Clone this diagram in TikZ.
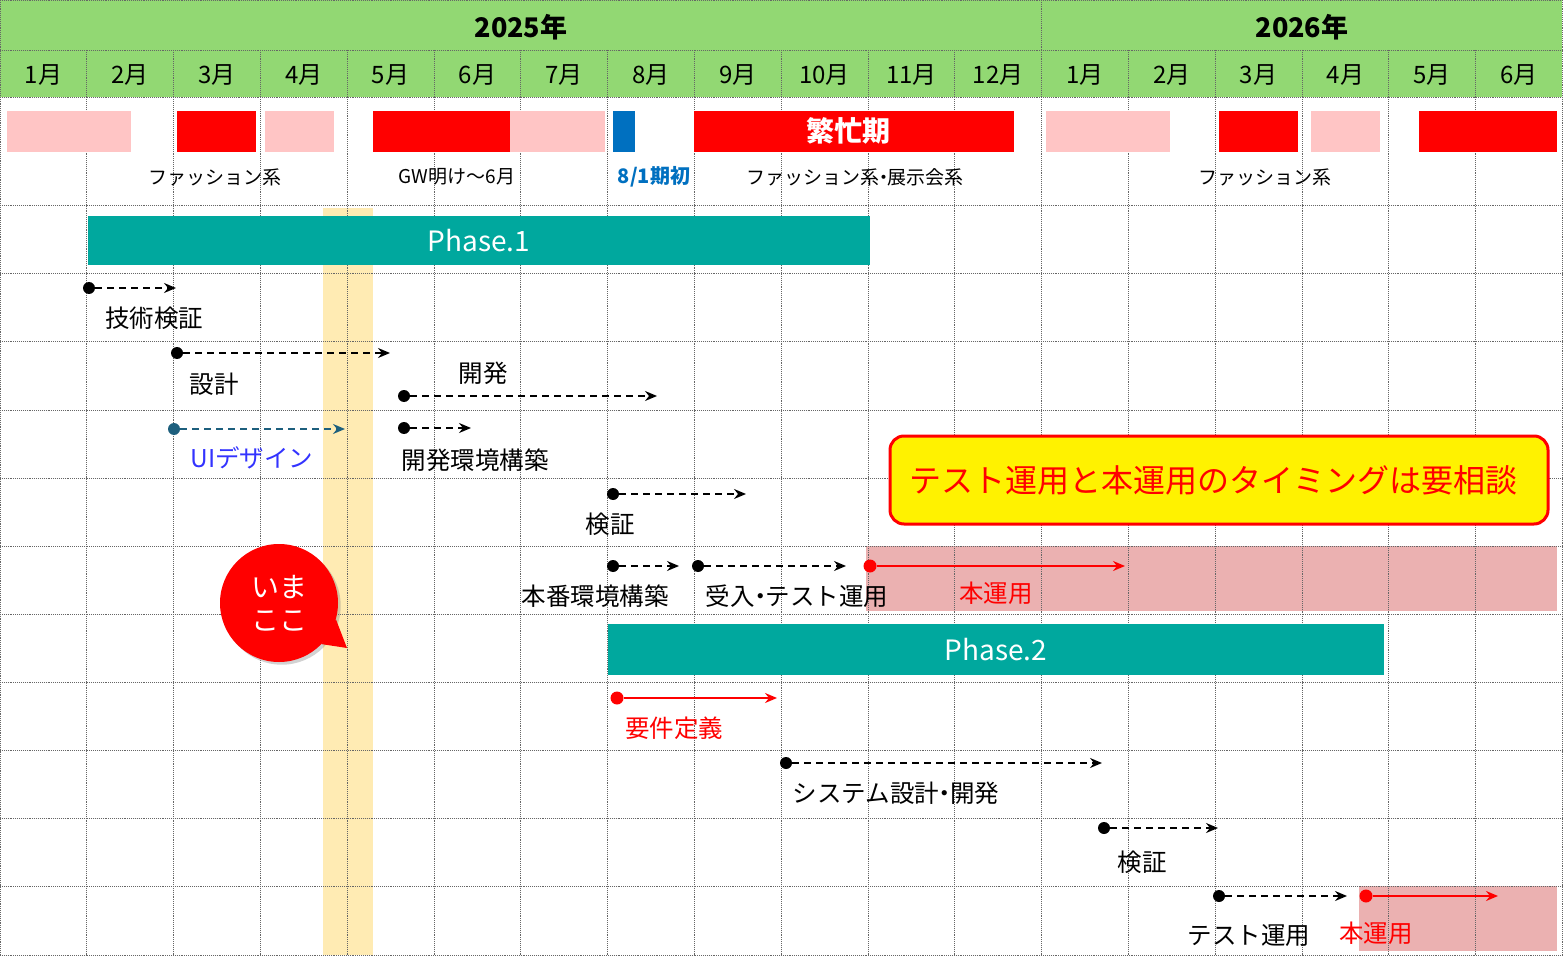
\documentclass[tikz,border=0pt]{standalone}
\usepackage{fontspec}
\setmainfont{Noto Sans CJK JP}
\usetikzlibrary{arrows.meta,shadows}
\definecolor{hdrGreen}{HTML}{92D873}
\definecolor{phaseTeal}{HTML}{00A89E}
\definecolor{busyRed}{HTML}{FF0000}
\definecolor{busyPink}{HTML}{FFC5C5}
\definecolor{kiBlue}{HTML}{0070C0}
\definecolor{opPink}{HTML}{EBB1B1}
\definecolor{nowBand}{HTML}{FFEBB3}
\definecolor{uiDot}{HTML}{1D5F7D}
\definecolor{uiText}{HTML}{3333FF}
\tikzstyle{grid}=[black!60, line width=0.9pt, densely dotted]
\tikzstyle{year}=[font=\fontsize{27}{27}\selectfont\bfseries]
\tikzstyle{month}=[font=\fontsize{24}{24}\selectfont]
\tikzstyle{note}=[font=\fontsize{19}{19}\selectfont]
\tikzstyle{phase}=[fill=phaseTeal, text=white, inner sep=0pt, font=\fontsize{28}{28}\selectfont]
\tikzstyle{dot}=[circle, fill=black, inner sep=0pt, minimum size=12pt]
\tikzstyle{rdot}=[circle, fill=red, inner sep=0pt, minimum size=13pt]
\tikzstyle{task}=[black, line width=1.8pt, dash pattern=on 7pt off 5pt, -{Stealth[length=12pt,width=10pt,inset=4pt]}]
\tikzstyle{optask}=[red, line width=1.8pt, -{Stealth[length=12pt,width=10pt,inset=4pt]}]
\tikzstyle{lbl}=[font=\fontsize{24.5}{24.5}\selectfont]
\newcommand\dotsep{\kern-0.28em・\kern-0.28em}

\begin{document}
\begin{tikzpicture}[x=1pt, y=-1pt]
			\useasboundingbox (0,0) rectangle (1563,965);
			\fill[white] (0,0) rectangle (1563,965);

			% Header
			\fill[hdrGreen] (0,0) rectangle (1562.4,97);
			\node[year] (y25) at (521,27) {2025年};
			\node[year] (y26) at (1302,27) {2026年};
			\foreach \i in {0,...,17}{
				\pgfmathtruncatemacro\m{mod(\i,12)+1}
				\node[month] (m\i) at ({86.8*(\i+0.5)},75) {\m 月};
			}

			% Now band and operation areas
			\fill[nowBand] (323,208) rectangle (373,955);
			\fill[opPink] (866,546) rectangle (1557,611);
			\fill[opPink] (1359,886) rectangle (1557,951);

			% Grid
			\foreach \y in {0,50,97,205,273,341,410,478,546,614,682,750,818,886,955}{
				\draw[grid] (0,\y) -- (1562.4,\y);
			}
			\foreach \i in {1,...,17}{ \draw[grid] ({86.8*\i},50) -- ({86.8*\i},955); }
			\draw[grid] (1041.6,0) -- (1041.6,50);
			\draw[grid] (0,0) -- (0,955);
			\draw[grid] (1562.4,0) -- (1562.4,955);

			% Busy seasons
			\fill[busyPink] (7,111) rectangle (131,152);
			\fill[busyRed]  (177,111) rectangle (256,152);
			\fill[busyPink] (265,111) rectangle (334,152);
			\fill[busyRed]  (373,111) rectangle (510,152);
			\fill[busyPink] (510,111) rectangle (605,152);
			\fill[kiBlue]   (613,111) rectangle (635,152);
			\fill[busyRed]  (694,111) rectangle (1014,152);
			\fill[busyPink] (1046,111) rectangle (1170,152);
			\fill[busyRed]  (1219,111) rectangle (1298,152);
			\fill[busyPink] (1311,111) rectangle (1380,152);
			\fill[busyRed]  (1419,111) rectangle (1557,152);

			% Busy labels
			\node[font=\fontsize{28}{28}\selectfont\bfseries, text=white] (busy) at (848,131) {繁忙期};
			\node[note] (n1) at (215,177) {ファッション系};
			\node[note] (n2) at (457,177) {GW明け～6月};
			\node[note, text=kiBlue, font=\fontsize{20}{20}\selectfont\bfseries] (n3) at (654,177) {8/1期初};
			\node[note] (n4) at (855,177) {ファッション系\dotsep 展示会系};
			\node[note] (n5) at (1265,177) {ファッション系};

			% Phases
			\node[phase, minimum width=782pt, minimum height=49pt] (p1) at (479,240.5) {Phase.1};
			\node[phase, minimum width=776pt, minimum height=51pt] (p2) at (996,649.5) {Phase.2};

			% Phase.1 tasks
			\node[dot] (t1) at (89,288) {};
			\coordinate (t1e) at (176,288);
			\draw[task] (t1) -- (t1e);
			\node[lbl] (t1l) at (154,318) {技術検証};

			\node[dot] (t2) at (177,353) {};
			\coordinate (t2e) at (390,353);
			\draw[task] (t2) -- (t2e);
			\node[lbl] (t2l) at (214,384) {設計};

			\node[dot] (t3) at (404,396) {};
			\coordinate (t3e) at (657,396);
			\draw[task] (t3) -- (t3e);
			\node[lbl] (t3l) at (483,373) {開発};

			\node[dot, fill=uiDot] (t4) at (174,429) {};
			\coordinate (t4e) at (345,429);
			\draw[task, uiDot] (t4) -- (t4e);
			\node[lbl, text=uiText] (t4l) at (252,458) {UIデザイン};

			\node[dot] (t5) at (404,428) {};
			\coordinate (t5e) at (471,428);
			\draw[task] (t5) -- (t5e);
			\node[lbl] (t5l) at (475,460) {開発環境構築};

			\node[dot] (t6) at (613,494) {};
			\coordinate (t6e) at (746,494);
			\draw[task] (t6) -- (t6e);
			\node[lbl] (t6l) at (610,524) {検証};

			\node[dot] (t7) at (613,566) {};
			\coordinate (t7e) at (679,566);
			\draw[task] (t7) -- (t7e);
			\node[lbl] (t7l) at (595,596) {本番環境構築};

			\node[dot] (t8) at (698,566) {};
			\coordinate (t8e) at (846,566);
			\draw[task] (t8) -- (t8e);
			\node[lbl] (t8l) at (797,596) {受入\dotsep テスト運用};

			\node[rdot] (t9) at (870,566) {};
			\coordinate (t9e) at (1125,566);
			\draw[optask] (t9) -- (t9e);
			\node[lbl, text=red] (t9l) at (996,593) {本運用};

			% Phase.2 tasks
			\node[rdot] (s1) at (617,698) {};
			\coordinate (s1e) at (777,698);
			\draw[optask] (s1) -- (s1e);
			\node[lbl, text=red] (s1l) at (674,728) {要件定義};

			\node[dot] (s2) at (786,763) {};
			\coordinate (s2e) at (1102,763);
			\draw[task] (s2) -- (s2e);
			\node[lbl] (s2l) at (896,793) {システム設計\dotsep 開発};

			\node[dot] (s3) at (1104,828) {};
			\coordinate (s3e) at (1218,828);
			\draw[task] (s3) -- (s3e);
			\node[lbl] (s3l) at (1142,862) {検証};

			\node[dot] (s4) at (1219,896) {};
			\coordinate (s4e) at (1347,896);
			\draw[task] (s4) -- (s4e);
			\node[lbl] (s4l) at (1249,936) {テスト運用};

			\node[rdot] (s5) at (1366,896) {};
			\coordinate (s5e) at (1498,896);
			\draw[optask] (s5) -- (s5e);
			\node[lbl, text=red] (s5l) at (1376,933) {本運用};

			% Callout
			\node[fill=yellow, draw=red, line width=3pt, rounded corners=14pt, minimum width=658pt, minimum height=88pt, text=red, font=\fontsize{32}{32}\selectfont, text width=620pt, align=left] (memo) at (1219,480) {テスト運用と本運用のタイミングは要相談};

			% Now bubble
			\node[circle, fill=red, minimum size=118pt, inner sep=0pt, text=white, align=center, font=\fontsize{28}{33}\selectfont, drop shadow={opacity=0.35}] (now) at (279,603) {いま\\ここ};
			\coordinate (tip) at (347,648);
			\fill[red] (now.-16) -- (tip) -- (now.-44) -- cycle;
		\end{tikzpicture}
\end{document}
